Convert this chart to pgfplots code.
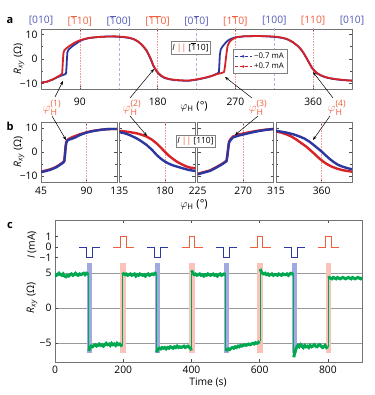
\documentclass[border=0pt]{standalone}
\usepackage{pgfplots}
\pgfplotsset{compat=1.18}
\usepackage{amsmath}
\usepackage{fontspec}
\setmainfont{Open Sans}
\usetikzlibrary{arrows.meta}
\definecolor{myblue}{RGB}{45,55,160}
\definecolor{myred}{RGB}{215,35,40}
\definecolor{myorange}{RGB}{240,95,60}
\definecolor{mygreen}{RGB}{0,168,80}
\definecolor{shblue}{RGB}{160,170,225}
\definecolor{shred}{RGB}{250,195,185}
\definecolor{lblblue}{RGB}{80,90,180}
\newcommand{\fs}{\fontsize{10.3}{12}\selectfont}
\newcommand{\bo}{$\overline{\text{1}}$}
\newcommand{\Rxy}{\textit{R}\textsubscript{\textit{xy}} (Ω)}
\newcommand{\phiH}[1]{$\varphi_{\text{H}}^{\text{(#1)}}$}
\pgfplotsset{
 base/.style={scale only axis, anchor=south west,
   axis line style={draw=black!55, line width=0.6pt},
   tick style={black!70, line width=0.5pt},
   major tick length=3pt, minor tick length=2pt, tick align=inside,
   tick label style={font=\fs}},
 bpan/.style={base, width=76pt, height=60pt, ymin=-12.5, ymax=12.5,
   ytick={-10,0,10}, minor ytick={-5,5}, yticklabels={}, xticklabel style={yshift=-1.5pt}},
 rline/.style={myred!45, densely dotted, line width=0.6pt, forget plot},
 bline/.style={lblblue!45, densely dashed, line width=0.5pt, forget plot},
}
\begin{document}
\begin{tikzpicture}[x=1pt,y=1pt,font=\fs]
\useasboundingbox (0,0) rectangle (374,395);
% ---------------- panel a
\begin{axis}[base, at={(41pt,306pt)}, width=311pt, height=60pt,
  xmin=45, xmax=405, ymin=-12.3, ymax=12.2,
  xtick={90,180,270,360}, xticklabels={90,180,270,360}, xticklabel style={yshift=-6pt},
  ytick={-10,0,10}, yticklabels={−10,0,10}, minor ytick={-5,5},
  legend style={at={(axis description cs:0.617,0.66)}, anchor=north west,
    font=\fontsize{7.8}{9}\selectfont, draw=black!50, inner sep=1.2pt, row sep=-1pt},
  legend cell align=left]
\addplot[rline] coordinates {(90,-13)(90,13)};
\addplot[rline] coordinates {(180,-13)(180,13)};
\addplot[rline] coordinates {(270,-13)(270,13)};
\addplot[rline] coordinates {(360,-13)(360,13)};
\addplot[bline] coordinates {(135,-13)(135,13)};
\addplot[bline] coordinates {(225,-13)(225,13)};
\addplot[bline] coordinates {(315,-13)(315,13)};
\addplot[myblue, line width=1.8pt, forget plot] coordinates {(45,-9.7)(52,-9.3)(59,-8.4)(64,-7.5)(68,-6.9)(72,-6.4)(74,-6.0)(74.6,-3)(75,0)(75.6,2.8)(77,3.8)(80,4.8)(83,5.6)(86,6.3)(90,7.3)(95,8.0)(101,8.5)(110,8.9)(120,9.1)(130,9.1)(140,8.9)(148,8.5)(153,7.9)(157,7.1)(161,6.0)(164,4.8)(167,3.4)(170,1.4)(172.5,-0.6)(175,-2.8)(178,-4.7)(181,-6.0)(184,-7.0)(188,-7.8)(193,-8.3)(200,-8.7)(210,-8.9)(217,-8.9)(225,-8.5)(232,-8.0)(238,-7.5)(244,-6.8)(249,-6.0)(251,-5.4)(251.5,-2)(252,1.5)(253,3.8)(255,5.0)(258,6.3)(261,7.4)(265,8.2)(270,8.8)(280,9.2)(290,9.3)(300,9.3)(310,9.1)(318,8.9)(325,8.5)(330,8.0)(336,6.9)(342,5.3)(346,3.8)(349,2.3)(352,0.5)(355,-1.4)(357,-2.7)(359,-3.9)(362,-5.1)(365,-6.0)(369,-6.8)(374,-7.5)(380,-8.0)(387,-8.4)(395,-8.7)(405,-8.9)};
\addplot[myred, line width=1.8pt, forget plot] coordinates {(45,-9.8)(52,-9.3)(59,-8.3)(64,-7.3)(68,-6.5)(69.5,-5.8)(70,-3)(70.5,0)(71,2.5)(72,3.5)(74.6,4.4)(78,5.3)(82,6.2)(86,7.0)(90,7.6)(95,8.1)(101,8.6)(110,8.9)(120,9.1)(130,9.2)(140,9.0)(148,8.6)(153,8.0)(157,7.2)(161,6.0)(164,4.9)(167,3.6)(170,1.6)(172.5,-0.3)(175,-2.6)(178,-4.5)(181,-5.8)(184,-6.8)(188,-7.6)(193,-8.2)(200,-8.6)(210,-8.8)(217,-8.8)(225,-8.4)(232,-7.9)(238,-7.4)(244,-6.8)(250,-6.1)(254,-5.8)(257,-5.3)(258,-3)(259,0)(260,3)(261,5.3)(263,6.8)(265,7.6)(268,8.3)(272,8.9)(280,9.2)(290,9.3)(300,9.3)(310,9.2)(318,9.0)(325,8.6)(330,8.1)(336,7.0)(342,5.4)(346,3.9)(349,2.4)(352,0.6)(355,-1.3)(357,-2.6)(359,-3.8)(362,-5.0)(365,-5.9)(369,-6.7)(374,-7.4)(380,-7.9)(387,-8.3)(395,-8.6)(405,-8.9)};
\addlegendimage{myblue, densely dashed, line width=0.7pt, mark=*, mark size=0.9pt, mark options={solid}}
\addlegendentry{−0.7 mA}
\addlegendimage{myred, densely dashed, line width=0.7pt, mark=*, mark size=0.9pt, mark options={solid}}
\addlegendentry{+0.7 mA}
\end{axis}
% ---------------- panel b
\begin{axis}[bpan, at={(41pt,213pt)}, xmin=45, xmax=120, xtick={45,90}, xticklabels={45,90}, yticklabels={−10,0,10}]
\addplot[rline] coordinates {(90,-13)(90,13)};
\addplot[myred, line width=2.4pt] coordinates {(45,-8.2)(50,-7.7)(55,-7.1)(60,-6.2)(64,-5.1)(67,-4.2)(68,-3.6)(68.6,-1)(69.2,2)(69.8,4.0)(71,5.0)(73,5.6)(76,6.2)(79,6.7)(82,7.2)(86,7.7)(90,8.2)(95,8.7)(100,9.0)(105,9.3)(110,9.5)(115,9.6)(120,9.6)};
\addplot[myblue, line width=2.4pt] coordinates {(45,-8.4)(50,-7.9)(55,-7.3)(60,-6.4)(64,-5.3)(67,-4.4)(68,-3.8)(68.7,-1)(69.3,2)(70,3.8)(71,4.8)(73,5.2)(76,5.6)(79,6.1)(82,6.8)(86,7.5)(90,8.1)(95,8.6)(100,9.0)(105,9.3)(110,9.5)(115,9.6)(120,9.6)};
\end{axis}
\begin{axis}[bpan, at={(119.33pt,213pt)}, xmin=135, xmax=210, xtick={135,180}, xticklabels={135,180}]
\addplot[rline] coordinates {(180,-13)(180,13)};
\addplot[myred, line width=2.4pt] coordinates {(135,8.8)(140,8.6)(145,8.3)(152,7.8)(157,7.2)(162,6.4)(167,5.2)(172,3.5)(176,1.8)(180,0.1)(184,-1.6)(188,-2.9)(192,-4.1)(196,-5.0)(201,-6.0)(205,-6.5)(210,-6.8)};
\addplot[myblue, line width=2.4pt] coordinates {(135,8.3)(140,7.8)(145,7.1)(152,5.7)(157,4.4)(162,2.9)(167,1.0)(172,-1.3)(176,-2.8)(180,-4.0)(184,-4.9)(188,-5.6)(192,-6.1)(196,-6.6)(201,-7.2)(205,-7.6)(210,-7.9)};
\end{axis}
\begin{axis}[bpan, at={(197.67pt,213pt)}, xmin=225, xmax=300, xtick={225,270}, xticklabels={225,270}]
\addplot[rline] coordinates {(270,-13)(270,13)};
\addplot[myred, line width=2.4pt] coordinates {(225,-9.1)(230,-8.5)(237,-7.7)(243,-6.4)(248,-5.2)(251,-4.4)(253.5,-3.6)(254.4,-1)(255.2,2)(256,4.3)(257.5,5.4)(260,6.5)(265,7.2)(271,7.8)(278,8.4)(285,8.9)(292,9.3)(300,9.6)};
\addplot[myblue, line width=2.4pt] coordinates {(225,-9.3)(230,-8.7)(237,-7.9)(243,-6.6)(248,-5.4)(251,-4.6)(253.5,-3.8)(254.5,-1)(255.3,2)(256,4.0)(257.5,5.0)(260,6.1)(265,6.8)(271,7.4)(278,8.1)(285,8.7)(292,9.2)(300,9.6)};
\end{axis}
\begin{axis}[bpan, at={(276pt,213pt)}, xmin=315, xmax=390, xtick={315,360}, xticklabels={315,360}]
\addplot[rline] coordinates {(360,-13)(360,13)};
\addplot[myred, line width=2.4pt] coordinates {(315,8.5)(320,8.1)(325,7.4)(330,6.5)(335,5.2)(340,3.7)(345,2.2)(349,0.7)(353,-0.8)(357,-2.4)(361,-3.8)(365,-5.0)(370,-6.1)(375,-6.9)(380,-7.5)(385,-7.9)(390,-8.2)};
\addplot[myblue, line width=2.4pt] coordinates {(315,8.8)(320,8.5)(326,8.0)(332,7.4)(338,6.5)(343,5.6)(348,4.3)(352,3.0)(356,1.6)(360,0.2)(364,-1.4)(368,-2.9)(372,-4.2)(376,-5.3)(380,-6.0)(385,-6.7)(390,-7.2)};
\end{axis}
% ---------------- panel c
\begin{axis}[base, at={(55pt,33pt)}, width=307pt, height=142pt,
  xmin=0, xmax=900, ymin=-7.67, ymax=12.6,
  xtick={0,200,400,600,800}, xticklabels={0,200,400,600,800},
  ytick={-5,0,5}, yticklabels={−5,0,5}, ytick pos=left,
  ymajorgrids, major grid style={black!40, line width=0.6pt},
  unbounded coords=jump]
\addplot[fill=shblue, draw=none] coordinates {(93,-6.4)(109,-6.4)(109,6.4)(93,6.4)} --cycle;
\addplot[fill=shblue, draw=none] coordinates {(293,-6.4)(309,-6.4)(309,6.4)(293,6.4)} --cycle;
\addplot[fill=shblue, draw=none] coordinates {(494,-6.4)(510,-6.4)(510,6.4)(494,6.4)} --cycle;
\addplot[fill=shblue, draw=none] coordinates {(694,-6.4)(710,-6.4)(710,6.4)(694,6.4)} --cycle;
\addplot[fill=shred, draw=none] coordinates {(192,-6.4)(208,-6.4)(208,6.4)(192,6.4)} --cycle;
\addplot[fill=shred, draw=none] coordinates {(393,-6.4)(409,-6.4)(409,6.4)(393,6.4)} --cycle;
\addplot[fill=shred, draw=none] coordinates {(593,-6.4)(609,-6.4)(609,6.4)(593,6.4)} --cycle;
\addplot[fill=shred, draw=none] coordinates {(793,-6.4)(809,-6.4)(809,6.4)(793,6.4)} --cycle;
\addplot[mygreen, line width=0.9pt] coordinates {(98,4.8)(98,-6.1)(150,nan)(198,-5.2)(198,5.1)(250,nan)(298,4.9)(298,-6.3)(350,nan)(401,-6.0)(401,5.4)(450,nan)(501,4.8)(501,-6.1)(550,nan)(601,-4.7)(601,5.6)(650,nan)(700,4.8)(700,-7.0)(750,nan)(801,-5.5)(801,4.3)};
\addplot[mygreen, line width=3pt] coordinates {(0,4.9)(4,4.7)(8,4.8)(12,5.0)(16,4.8)(20,4.7)(24,4.9)(28,4.6)(32,4.5)(36,4.7)(40,4.6)(44,4.8)(48,4.9)(52,4.7)(56,4.8)(60,5.0)(64,4.8)(68,4.7)(72,4.9)(76,4.8)(80,4.9)(84,5.0)(88,4.8)(92,5.0)(96,4.9)(98,4.8)};
\addplot[mygreen, line width=3pt] coordinates {(99,-6.1)(101,-5.8)(103,-5.6)(106,-5.4)(110,-5.5)(114,-5.3)(118,-5.2)(122,-5.4)(126,-5.3)(130,-5.1)(134,-5.3)(138,-5.2)(142,-5.4)(146,-5.2)(150,-5.0)(154,-5.2)(158,-5.1)(162,-5.3)(166,-5.0)(170,-5.2)(174,-5.1)(178,-5.3)(182,-5.0)(186,-5.2)(190,-5.1)(194,-5.3)(197,-5.2)};
\addplot[mygreen, line width=3pt] coordinates {(198,5.1)(201,4.9)(205,4.8)(209,4.9)(213,4.7)(217,4.8)(221,4.9)(225,4.7)(229,4.8)(233,4.9)(237,4.6)(241,4.8)(245,4.7)(249,4.9)(253,4.8)(257,4.7)(261,4.8)(265,4.6)(269,4.8)(273,4.9)(277,4.7)(281,4.8)(285,4.9)(289,4.8)(293,5.0)(297,4.9)};
\addplot[mygreen, line width=3pt] coordinates {(298,-6.3)(300,-6.0)(303,-5.8)(306,-5.7)(310,-5.8)(314,-5.6)(318,-5.7)(322,-5.6)(326,-5.8)(330,-5.6)(334,-5.7)(338,-5.5)(342,-5.6)(346,-5.7)(350,-5.5)(354,-5.6)(358,-5.4)(362,-5.6)(366,-5.5)(370,-5.6)(374,-5.5)(378,-5.4)(382,-5.6)(386,-5.5)(390,-5.4)(394,-5.6)(398,-5.8)(400,-6.0)};
\addplot[mygreen, line width=3pt] coordinates {(401,5.4)(404,5.0)(408,4.8)(412,4.9)(416,4.7)(420,4.8)(424,4.9)(428,4.7)(432,4.8)(436,4.6)(440,4.8)(444,4.7)(448,4.9)(452,4.8)(456,4.7)(460,4.8)(464,4.9)(468,4.7)(472,4.8)(476,4.6)(480,4.8)(484,4.9)(488,4.7)(492,4.8)(496,4.9)(500,4.8)};
\addplot[mygreen, line width=3pt] coordinates {(501,-6.1)(504,-5.9)(508,-5.8)(512,-5.9)(516,-5.7)(520,-5.6)(524,-5.7)(528,-5.5)(532,-5.6)(536,-5.4)(540,-5.5)(544,-5.3)(548,-5.4)(552,-5.3)(556,-5.2)(560,-5.3)(564,-5.2)(568,-5.1)(572,-5.2)(576,-5.1)(580,-5.0)(584,-5.1)(588,-4.9)(592,-5.0)(596,-4.9)(600,-4.7)};
\addplot[mygreen, line width=3pt] coordinates {(601,5.6)(604,5.3)(608,5.0)(612,4.9)(616,5.0)(620,4.8)(624,4.9)(628,4.7)(632,4.8)(636,4.9)(640,4.7)(644,4.8)(648,4.8)(652,4.7)(656,4.9)(660,4.8)(664,4.7)(668,4.9)(672,4.8)(676,4.8)(680,4.9)(684,4.7)(688,4.9)(692,5.0)(696,4.9)(699,4.8)};
\addplot[mygreen, line width=3pt] coordinates {(700,-7.0)(702,-6.5)(705,-6.0)(708,-5.6)(712,-5.3)(716,-5.5)(720,-5.2)(724,-5.4)(728,-5.6)(732,-5.3)(736,-5.5)(740,-5.4)(744,-5.6)(748,-5.3)(752,-5.5)(756,-5.4)(760,-5.2)(764,-5.4)(768,-5.5)(772,-5.3)(776,-5.2)(780,-5.4)(784,-5.6)(788,-5.5)(792,-5.3)(796,-5.6)(800,-5.5)};
\addplot[mygreen, line width=3pt] coordinates {(801,4.3)(804,4.4)(808,4.3)(812,4.2)(816,4.4)(820,4.3)(824,4.2)(828,4.4)(832,4.3)(836,4.2)(840,4.3)(844,4.4)(848,4.3)(852,4.2)(856,4.3)(860,4.4)(864,4.3)(868,4.2)(872,4.4)(876,4.3)(880,4.2)(884,4.3)(888,4.4)(892,4.3)(896,4.2)(900,4.4)};
\end{axis}
\begin{axis}[base, at={(55pt,33pt)}, width=307pt, height=142pt,
  xmin=0, xmax=900, ymin=-10.95, ymax=2.57, axis line style={draw=none},
  xtick=\empty, ytick={-1,0,1}, yticklabels={−1,0,1}, ytick pos=left,
  unbounded coords=jump]
\addplot[myblue, line width=0.9pt] coordinates {(71,0)(92,0)(92,-1)(109,-1)(109,0)(132,0)(200,nan)(271,0)(292,0)(292,-1)(309,-1)(309,0)(332,0)(400,nan)(472,0)(493,0)(493,-1)(510,-1)(510,0)(533,0)(600,nan)(672,0)(693,0)(693,-1)(710,-1)(710,0)(733,0)};
\addplot[myorange, line width=0.9pt] coordinates {(171,0)(192,0)(192,1)(209,1)(209,0)(232,0)(300,nan)(371,0)(393,0)(393,1)(409,1)(409,0)(433,0)(500,nan)(571,0)(593,0)(593,1)(609,1)(609,0)(633,0)(700,nan)(771,0)(793,0)(793,1)(809,1)(809,0)(833,0)};
\end{axis}
% ---------------- annotations
\node[font=\fontsize{11}{12}\selectfont\bfseries] at (10,375) {a};
\node[font=\fontsize{11}{12}\selectfont\bfseries] at (10,269) {b};
\node[font=\fontsize{11}{12}\selectfont\bfseries] at (10,170) {c};
\foreach \x/\t in {41/{[010]},118.8/{[\bo00]},196.5/{[0\bo0]},274.3/{[100]},352/{[010]}}
  \node[text=lblblue] at (\x,374) {\t};
\foreach \x/\t in {79.9/{[\bo10]},157.6/{[\bo\bo0]},235.4/{[1\bo0]},313.1/{[110]}}
  \node[text=myorange] at (\x,374) {\t};
\node[rotate=90] at (19,336) {\Rxy};
\node[rotate=90] at (19,243) {\Rxy};
\node[rotate=90] at (32,150) {\textit{I} (mA)};
\node[rotate=90] at (32,97) {\Rxy};
\node[font=\fontsize{11}{12}\selectfont] at (194,288) {$\varphi_{\text{H}}$ (°)};
\node[font=\fontsize{11}{12}\selectfont] at (194,190) {$\varphi_{\text{H}}$ (°)};
\node at (208,12) {Time (s)};
\node[draw=black!50, fill=white, inner sep=1.5pt, font=\fontsize{8.5}{9}\selectfont] at (190.5,347) {\textit{I} \textcolor{myorange}{||} [\bo10]};
\node[draw=black!50, fill=white, inner sep=1.5pt, font=\fontsize{8.5}{9}\selectfont] at (195.5,254) {\textit{I} \textcolor{myorange}{||} [110]};
\foreach \x/\n in {52/1,132/2,258/3,337/4}
  \node[text=myorange, font=\fontsize{12.5}{13}\selectfont] at (\x,287) {\phiH{\n}};
\begin{scope}[-{Stealth[length=4pt,width=3pt]}, line width=0.5pt]
\draw (55,298) -- (63,314);
\draw (130,297) -- (154,326);
\draw (252,297) -- (225,318);
\draw (333,297) -- (313,323);
\draw (52,279) -- (66,255);
\draw (130,279) -- (147,259);
\draw (258,279) -- (235,260);
\draw (330,279) -- (313,255);
\end{scope}
\end{tikzpicture}
\end{document}
